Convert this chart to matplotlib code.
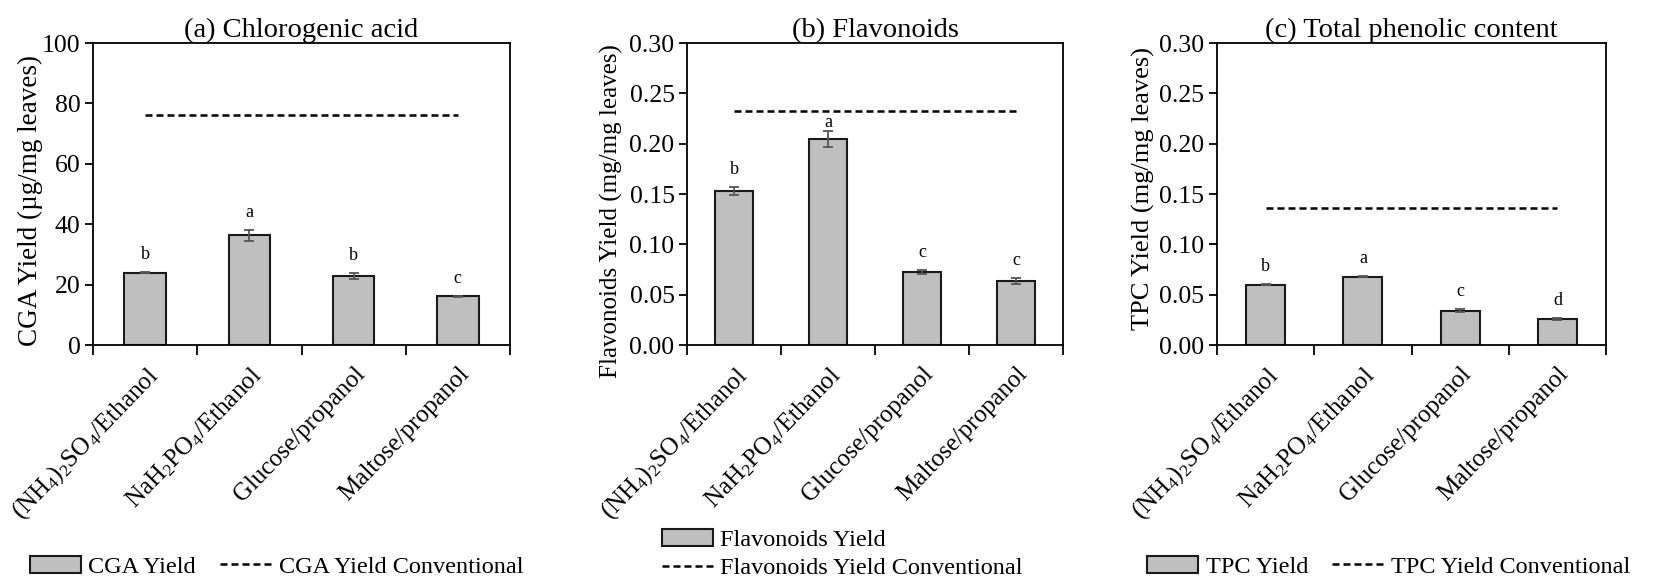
"""Three-panel yield comparison of ATPS systems vs conventional extraction."""
import numpy as np
from matplotlib import pyplot as plt

plt.rcParams['font.family'] = 'Liberation Serif'
plt.rcParams['mathtext.fontset'] = 'custom'
plt.rcParams['mathtext.rm'] = 'Liberation Serif'
plt.rcParams['mathtext.it'] = 'Liberation Serif:italic'

systems = [r'(NH$_4$)$_2$SO$_4$/Ethanol', r'NaH$_2$PO$_4$/Ethanol',
           'Glucose/propanol', 'Maltose/propanol']

cga_yield = [24.0, 36.3, 23.0, 16.1]
cga_err = [0.2, 1.8, 1.0, 0.2]
cga_conv = [76.2, 76.2, 76.2, 76.2]
cga_letters = ['b', 'a', 'b', 'c']

flav_yield = [0.153, 0.205, 0.073, 0.064]
flav_err = [0.004, 0.008, 0.002, 0.003]
flav_conv = [0.233, 0.233, 0.233, 0.233]
flav_letters = ['b', 'a', 'c', 'c']

tpc_yield = [0.060, 0.068, 0.034, 0.026]
tpc_err = [0.0005, 0.0005, 0.0015, 0.001]
tpc_conv = [0.136, 0.136, 0.136, 0.136]
tpc_letters = ['b', 'a', 'c', 'd']


def draw_panel(ax, title, y_label, y, err, conv, letters, ymax, yticks, fmt,
               names, ylab_size, ylab_pos, leg_anchor, leg_cols, leg_loc):
    """Draw one bar panel with the conventional-method line."""
    x = np.arange(len(systems))
    bars = ax.bar(x, y, width=0.4, color='#bfbfbf', edgecolor='#1a1a1a',
                  linewidth=1.5, label=names[0], zorder=2)
    ax.errorbar(x, y, yerr=err, fmt='none', ecolor='#555555', elinewidth=1.3,
                capsize=3.6, capthick=1.3, zorder=3)
    line, = ax.plot(x, conv, color='black', linestyle=(0, (2.8, 1.6)),
                    linewidth=1.8, label=names[1])
    # significance letters sit above the error bar, but stay under the dashed line
    for xi, yi, ei, ci, lab in zip(x, y, err, conv, letters):
        ty = min(yi + ei + ymax * 0.03, ci - ymax * 0.068)
        ax.text(xi, ty, lab, ha='center', va='bottom', fontsize=13)
    ax.set_xlim(-0.5, len(systems) - 0.5)
    ax.set_ylim(0, ymax)
    ax.set_yticks(yticks)
    ax.set_yticklabels([fmt.format(v) for v in yticks])
    ax.set_xticks(x)
    ax.set_xticklabels(systems, rotation=46, ha='right', va='top',
                       rotation_mode='anchor')
    ax.set_xticks(np.arange(len(systems) + 1) - 0.5, minor=True)
    ax.tick_params(axis='x', which='major', length=0, pad=13, labelsize=18)
    ax.tick_params(axis='x', which='minor', length=7, width=1.3, direction='out')
    ax.tick_params(axis='y', length=6, width=1.3, labelsize=18.5, pad=3)
    for sp in ax.spines.values():
        sp.set_linewidth(1.3)
    ax.set_title(title, fontsize=20.5, pad=3)
    ax.set_ylabel(y_label, fontsize=ylab_size)
    ax.yaxis.set_label_coords(*ylab_pos)
    ax.legend([bars, line], names, loc=leg_loc, bbox_to_anchor=leg_anchor,
              bbox_transform=ax.figure.transFigure, ncol=leg_cols, frameon=False,
              fontsize=17.5, handlelength=2.1, handletextpad=0.3, columnspacing=1.0,
              borderpad=0.1, labelspacing=0.25)


fig = plt.figure(figsize=(16.77, 5.82), dpi=100)
ax_a = fig.add_axes([0.0555, 0.407, 0.2486, 0.519])
ax_b = fig.add_axes([0.4097, 0.407, 0.2241, 0.519])
ax_c = fig.add_axes([0.7257, 0.407, 0.2320, 0.519])

draw_panel(ax_a, '(a) Chlorogenic acid', r'CGA Yield (µg/mg leaves)',
           cga_yield, cga_err, cga_conv, cga_letters, 100, [0, 20, 40, 60, 80, 100],
           '{:.0f}', ['CGA Yield', 'CGA Yield Conventional'], 19.5, (-0.12, 0.48),
           (0.165, 0.026), 2, 'center')
draw_panel(ax_b, '(b) Flavonoids', 'Flavonoids Yield (mg/mg leaves)',
           flav_yield, flav_err, flav_conv, flav_letters, 0.30,
           [0, 0.05, 0.10, 0.15, 0.20, 0.25, 0.30], '{:.2f}',
           ['Flavonoids Yield', 'Flavonoids Yield Conventional'], 18, (-0.17, 0.444),
           (0.386, 0.048), 1, 'center left')
draw_panel(ax_c, '(c) Total phenolic content', 'TPC Yield (mg/mg leaves)',
           tpc_yield, tpc_err, tpc_conv, tpc_letters, 0.30,
           [0, 0.05, 0.10, 0.15, 0.20, 0.25, 0.30], '{:.2f}',
           ['TPC Yield', 'TPC Yield Conventional'], 19, (-0.16, 0.52),
           (0.828, 0.026), 2, 'center')

fig.savefig('out.png', dpi=100)
